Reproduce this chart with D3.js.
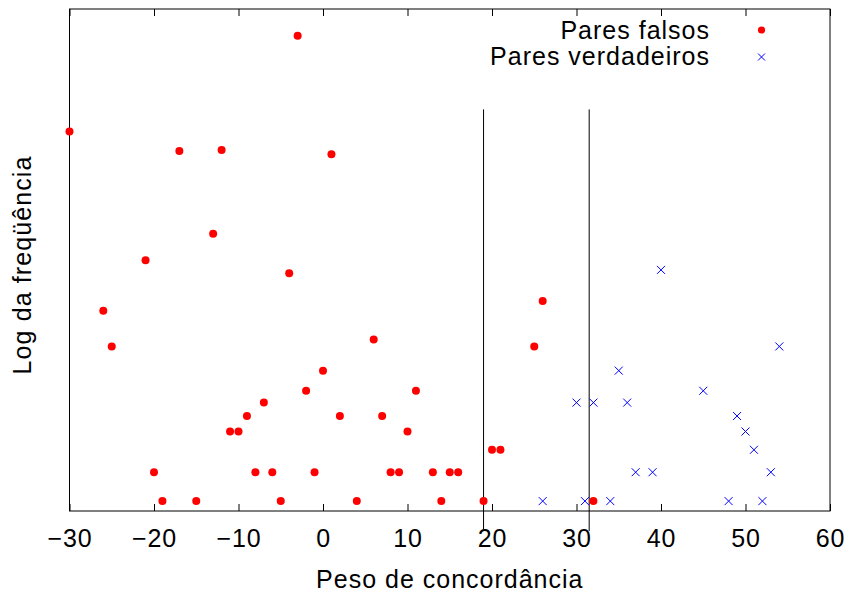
<!DOCTYPE html>
<html>
<head>
<meta charset="utf-8">
<script src="https://cdn.jsdelivr.net/npm/d3@7"></script>
<style>
	body { margin: 0; background: #fff; }
	svg { display: block; }
</style>
</head>
<body>
<svg id="chart" width="851" height="593"></svg>
<script>
// pares falsos: peso de concordancia x frequencia (contagem)
var falsosPeso = [-30, -26, -25, -21, -20, -19, -17, -15, -13, -12, -11, -10, -9, -8, -7, -6, -5, -4, -3, -2, -1, 0, 1, 2, 4, 6, 7, 8, 9, 10, 11, 13, 14, 15, 16, 19, 20, 21, 25, 26, 32];
var falsosFreq = [119, 20, 14, 33, 4, 3, 98, 3, 43, 99, 6, 6, 7, 4, 8, 4, 3, 29, 309, 9, 4, 11, 95, 7, 3, 15, 7, 4, 4, 6, 9, 4, 3, 4, 4, 3, 5, 5, 14, 22, 3];

// pares verdadeiros
var verdadeirosPeso = [26, 30, 31, 32, 34, 35, 36, 37, 39, 40, 45, 48, 49, 50, 51, 52, 53, 54];
var verdadeirosFreq = [3, 8, 3, 8, 3, 11, 8, 4, 4, 30, 9, 3, 7, 6, 5, 3, 4, 14];

var xTicks = [-30, -20, -10, 0, 10, 20, 30, 40, 50, 60];
var limiares = [19, 31.5];
var legendas = ["Pares falsos", "Pares verdadeiros"];

var margin = {top: 9, right: 21, bottom: 82, left: 69.5},
	width = 851 - margin.left - margin.right,
	height = 593 - margin.top - margin.bottom;

var font = "'Liberation Sans', Arial, Helvetica, sans-serif";

var svg = d3.select("#chart")
	.style("font-family", font);

var g = svg.append("g")
	.attr("transform", `translate(${margin.left},${margin.top})`);

var x = d3.scaleLinear()
	.domain([-30, 60])
	.range([0, width]);

// eixo y = log natural da frequencia
var y = d3.scaleLinear()
	.domain([1, 6])
	.range([height, 0]);

var falsos = falsosPeso.map((p, i) => ({peso: p, freq: falsosFreq[i]}));
var verdadeiros = verdadeirosPeso.map((p, i) => ({peso: p, freq: verdadeirosFreq[i]}));

// eixo de baixo (ticks para dentro)
var xAxis = g.append("g")
	.attr("transform", `translate(0,${height})`)
	.call(d3.axisBottom(x).tickValues(xTicks).tickSizeInner(-7).tickSizeOuter(0));
xAxis.select(".domain").remove();
xAxis.selectAll("line").attr("stroke", "#000");
xAxis.selectAll("text")
	.attr("y", 36)
	.attr("dy", null)
	.attr("fill", "#000")
	.style("font-size", "25px")
	.style("font-family", font)
	.style("letter-spacing", "0.8px");

// eixo de cima, espelho sem rotulos
var xTop = g.append("g")
	.call(d3.axisTop(x).tickValues(xTicks).tickSizeInner(-7).tickSizeOuter(0).tickFormat(""));
xTop.select(".domain").remove();
xTop.selectAll("line").attr("stroke", "#000");

// limiares verticais
g.append("g")
	.selectAll("line")
	.data(limiares)
	.join("line")
		.attr("x1", d => x(d))
		.attr("x2", d => x(d))
		.attr("y1", y(5))
		.attr("y2", y(0.8))
		.attr("stroke", "#000")
		.attr("stroke-width", 1);

// moldura
g.append("rect")
	.attr("width", width)
	.attr("height", height)
	.attr("fill", "none")
	.attr("stroke", "#000")
	.attr("stroke-width", 1);

var cruz = "M-4,-4L4,4M-4,4L4,-4";

g.append("g")
	.selectAll("path")
	.data(verdadeiros)
	.join("path")
		.attr("transform", d => `translate(${x(d.peso)},${y(Math.log(d.freq))})`)
		.attr("d", cruz)
		.attr("stroke", "#0000ff")
		.attr("stroke-width", 1)
		.attr("fill", "none");

g.append("g")
	.selectAll("circle")
	.data(falsos)
	.join("circle")
		.attr("cx", d => x(d.peso))
		.attr("cy", d => y(Math.log(d.freq)))
		.attr("r", 4)
		.attr("fill", "#ff0000");

// legenda
var leg = svg.append("g")
	.style("font-size", "25px")
	.style("letter-spacing", "1px");

leg.selectAll("text")
	.data(legendas)
	.join("text")
		.attr("x", 710)
		.attr("y", (d, i) => 39 + i * 26)
		.attr("text-anchor", "end")
		.text(d => d);

leg.append("circle")
	.attr("cx", 761.5)
	.attr("cy", 30)
	.attr("r", 3.6)
	.attr("fill", "#ff0000");

leg.append("path")
	.attr("transform", "translate(761.5,57)")
	.attr("d", "M-3.5,-3.5L3.5,3.5M-3.5,3.5L3.5,-3.5")
	.attr("stroke", "#0000ff")
	.attr("fill", "none");

// titulos dos eixos
svg.append("text")
	.attr("x", margin.left + width / 2)
	.attr("y", 588)
	.attr("text-anchor", "middle")
	.style("font-size", "25px")
	.style("letter-spacing", "1px")
	.text("Peso de concordância");

svg.append("text")
	.attr("transform", `translate(31,${margin.top + height / 2 + 5}) rotate(-90)`)
	.attr("text-anchor", "middle")
	.style("font-size", "25px")
	.style("letter-spacing", "1.1px")
	.text("Log da freqüência");
</script>
</body>
</html>
